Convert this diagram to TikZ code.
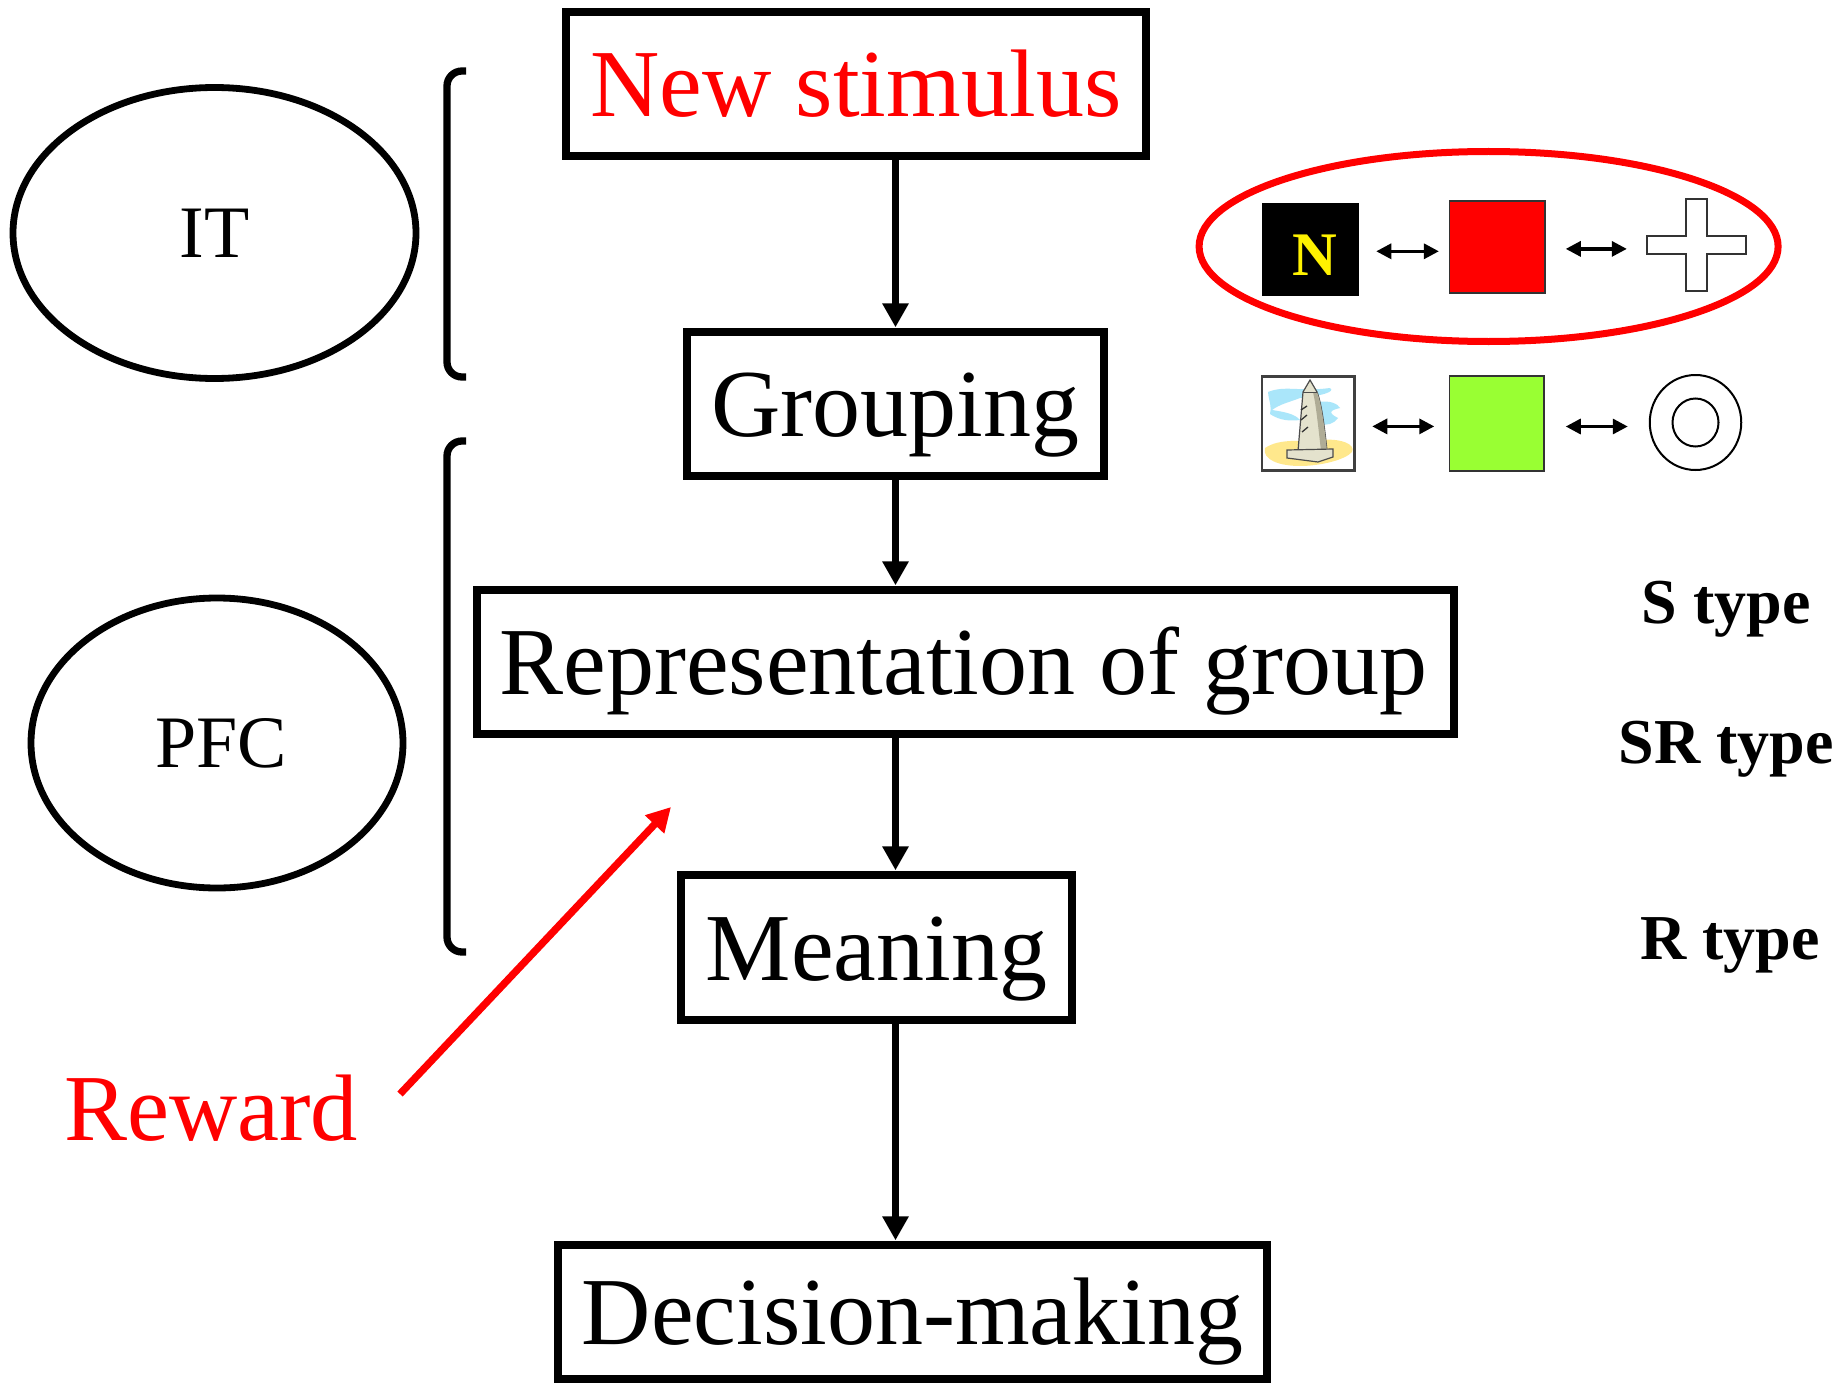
\documentclass[tikz,border=0pt]{standalone}
\usepackage{fontspec}
\setmainfont{Liberation Serif}
\usetikzlibrary{arrows.meta,shapes.geometric}
\definecolor{grn}{RGB}{153,255,51}
\definecolor{skyb}{RGB}{170,230,250}
\definecolor{sand}{RGB}{255,232,140}
\definecolor{stone}{RGB}{228,226,205}
\definecolor{stonedk}{RGB}{175,172,150}
\begin{document}
\begin{tikzpicture}[x=1pt,y=-1pt,
  box/.style={draw,line width=7.3pt,inner sep=0pt,text height=65pt,text depth=0pt,
              font=\fontsize{96}{100}\selectfont},
  flow/.style={line width=7.3pt,-{Triangle[length=24pt,width=25pt]},shorten >=1pt},
  region/.style={draw,ellipse,line width=6.8pt,inner sep=0pt,text height=49pt,text depth=0pt,
              font=\fontsize{74}{80}\selectfont},
  brace/.style={line width=7.3pt,rounded corners=15pt},
  typelbl/.style={anchor=base,font=\bfseries\fontsize{64}{70}\selectfont},
  tile/.style={inner sep=0pt,line width=1.5pt},
  pair/.style={line width=3.2pt,{Triangle[length=15pt,width=15pt]}-{Triangle[length=15pt,width=15pt]}}
]
\useasboundingbox (0,0) rectangle (1839,1383);

% ---- processing chain ----
\node[box,minimum width=580,minimum height=144,text=red] (ns) at (856,84) {New stimulus};
\node[box,minimum width=417,minimum height=144] (grp) at (895.5,404) {Grouping};
\node[box,minimum width=977,minimum height=144] (rep) at (965.5,662) {\hspace*{-4pt}Representation of group};
\node[box,minimum width=391,minimum height=145] (mean) at (876.5,947.5) {Meaning};
\node[box,minimum width=709,minimum height=134] (dec) at (912.5,1312) {Decision-making};

\draw[flow] (ns.south -| grp.north) -- (grp.north);
\draw[flow] (grp.south) -- (rep.north -| grp.south);
\draw[flow] (rep.south -| grp.south) -- (mean.north -| grp.south);
\draw[flow] (mean.south -| grp.south) -- (dec.north -| grp.south);

% ---- brain areas ----
\node[region,minimum width=403,minimum height=291] (it) at (214.5,233) {IT};
\node[region,minimum width=372,minimum height=290] (pfc) at (217,743) {\hspace*{8pt}PFC};

\draw[brace] (466,71) -- (447,71) -- (447,377) -- (466,377);
\draw[brace] (466,441) -- (447,441) -- (447,952) -- (466,952);

% ---- reward ----
\node[anchor=base,text=red,font=\fontsize{94.5}{100}\selectfont] (rew) at (211,1140) {Reward};
\coordinate (rwa) at (400,1094);
\coordinate (rwb) at (671,807);
\draw[line width=7.3pt,red,-{Triangle[length=24pt,width=25pt]}] (rwa) -- (rwb);

% ---- neuron types ----
\node[typelbl] (st) at (1726,623) {S type};
\node[typelbl] (srt) at (1726,763) {SR type};
\node[typelbl] (rt) at (1730,959) {R type};

% ---- associated stimuli, first group ----
\draw[red,line width=7pt] (1488.6,246.5) ellipse [x radius=289.5, y radius=95];
\node[tile,fill=black,minimum width=96.5,minimum height=93] (nsq) at (1310.25,249.3) {};
\node[anchor=base,text=yellow,font=\bfseries\fontsize{62}{62}\selectfont] (nlt) at (1315,275) {N};
\node[tile,draw=black!80,fill=red,minimum width=95.4,minimum height=91.7] (rsq) at (1497.3,246.9) {};
\node[inner sep=0pt,minimum width=99,minimum height=92] (crs) at (1696.5,245) {};
\draw[line width=2pt,draw=black!80,fill=white]
  (1686,199) -- (1707,199) -- (1707,236) -- (1746,236) -- (1746,254) -- (1707,254)
  -- (1707,291) -- (1686,291) -- (1686,254) -- (1647,254) -- (1647,236) -- (1686,236) -- cycle;
\draw[pair] ([yshift=-2]nsq.east) ++(17,0) -- ([xshift=-10,yshift=-2]nsq.east -| rsq.west);
\draw[pair] ([yshift=-2]rsq.east) ++(20,0) -- ([xshift=-20,yshift=-2]rsq.east -| crs.west);

% ---- associated stimuli, second group ----
\node[tile,draw=black!75,fill=white,minimum width=92,minimum height=93.3] (bld) at (1308,423.4) {};
\begin{scope}
  \clip (1263,378) rectangle (1353,469);
  % sky strokes
  \fill[skyb] (1268,392) .. controls (1285,385) and (1300,392) .. (1330,388)
    .. controls (1336,392) and (1320,396) .. (1300,398)
    .. controls (1290,402) and (1280,404) .. (1272,410)
    .. controls (1285,412) and (1295,414) .. (1300,420)
    .. controls (1285,422) and (1276,418) .. (1270,414)
    .. controls (1272,405) and (1268,398) .. cycle;
  \fill[skyb] (1318,402) .. controls (1330,400) and (1338,404) .. (1340,408)
    .. controls (1332,410) and (1326,412) .. (1338,418)
    .. controls (1334,424) and (1326,426) .. (1320,424) -- cycle;
  % sand
  \fill[sand] (1265,448) .. controls (1280,438) and (1300,442) .. (1320,440)
    .. controls (1340,438) and (1356,444) .. (1352,452)
    .. controls (1345,460) and (1320,466) .. (1300,466)
    .. controls (1280,466) and (1262,460) .. cycle;
  % obelisk
  \draw[line width=1.2pt,fill=stone,draw=black!70]
    (1310,380) -- (1303,392) -- (1298,451) -- (1327,451)
    .. controls (1324,422) and (1321,402) .. (1317,392) -- cycle;
  \fill[stonedk] (1317,392) .. controls (1321,402) and (1324,422) .. (1327,451)
    -- (1321,451) .. controls (1318,425) and (1316,405) .. (1313,392) -- cycle;
  \draw[line width=1pt,draw=black!70] (1303,392) -- (1317,392);
  \draw[line width=1.2pt,fill=stone,draw=black!70]
    (1287,450) -- (1333,449) -- (1333,457) -- (1318,462) -- (1287,458) -- cycle;
  \draw[line width=1.3pt,black!80] (1301,410) -- (1307,406) (1301,420) -- (1307,415) (1302,432) -- (1308,427);
\end{scope}
\draw[line width=1.5pt,draw=black!75] (bld.north west) rectangle (bld.south east);
\node[tile,draw=black!80,fill=grn,minimum width=94.4,minimum height=95] (gsq) at (1496.8,423.5) {};
\node[draw,ellipse,line width=2pt,fill=white,inner sep=0pt,minimum width=91.5,minimum height=95] (ring) at (1695.5,422.5) {};
\draw[line width=2pt] (ring.center) ellipse [x radius=23, y radius=24];
\draw[pair] ([yshift=-3]bld.east) ++(17.5,0) -- ([xshift=-14.6,yshift=-3]bld.east -| gsq.west);
\draw[pair] ([yshift=-3]gsq.east) ++(21,0) -- ([xshift=-21,yshift=-3]gsq.east -| ring.west);
\end{tikzpicture}
\end{document}
